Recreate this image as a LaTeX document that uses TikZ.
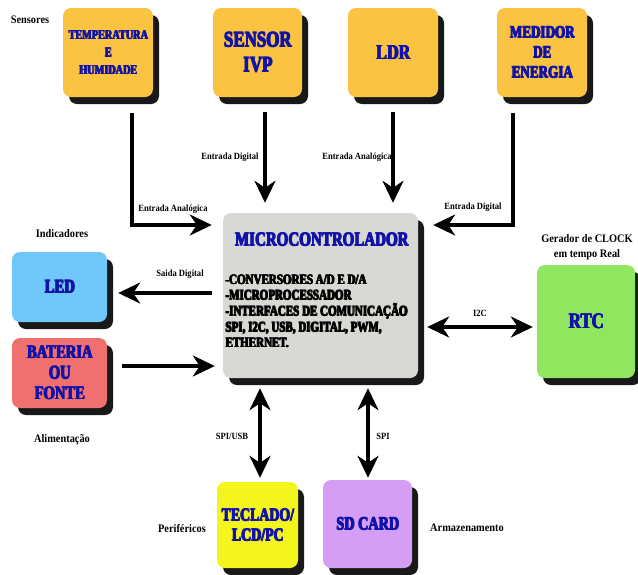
\documentclass[tikz,border=0pt]{standalone}
\usepackage{fontspec}
\setmainfont{Liberation Serif}
\newfontfamily\boxfont[FakeStretch=0.77]{Liberation Serif Bold}
\newfontfamily\labfont[FakeStretch=0.9]{Liberation Serif Bold}
\usetikzlibrary{arrows.meta,shadows,calc}
\definecolor{sensorcol}{RGB}{250,195,65}
\definecolor{ledcol}{RGB}{112,200,250}
\definecolor{batcol}{RGB}{240,112,112}
\definecolor{rtccol}{RGB}{145,230,95}
\definecolor{teccol}{RGB}{245,245,30}
\definecolor{sdcol}{RGB}{212,158,245}
\definecolor{microcol}{RGB}{216,216,212}
\definecolor{txtblue}{RGB}{18,18,168}
% heavier letters: the text is set several times, slightly shifted
\newcommand\hv[1]{\leavevmode\rlap{\kern0.8pt#1}\rlap{\raisebox{0.6pt}{#1}}\rlap{\kern0.8pt\raisebox{0.6pt}{#1}}#1}
\begin{document}
\begin{tikzpicture}[x=1pt,y=-1pt,
        blok/.style={rounded corners=8pt, inner sep=0pt, align=center, text=txtblue,
            drop shadow={shadow xshift=6pt,shadow yshift=-7pt,opacity=0.9,fill=black}},
        conn/.style={line width=3.2pt, -{Stealth[length=22pt,width=21pt,inset=7pt]}},
        both/.style={line width=3.2pt, {Stealth[length=22pt,width=21pt,inset=7pt]}-{Stealth[length=22pt,width=21pt,inset=7pt]}},
        lab/.style={font=\labfont\fontsize{9.5}{11}\selectfont, inner sep=0pt},
        grp/.style={font=\labfont\fontsize{11.5}{15}\selectfont, align=center, inner sep=0pt}]
        \useasboundingbox (0,0) rectangle (638,574);
        % sensores
        \node[blok, fill=sensorcol, minimum width=90, minimum height=89,
            font=\boxfont\fontsize{13.3}{17.5}\selectfont] (temp) at (108,52.5) {\hv{TEMPERATURA}\\\hv{E}\\\hv{HUMIDADE}};
        \node[blok, fill=sensorcol, minimum width=89, minimum height=89,
            font=\boxfont\fontsize{22}{25}\selectfont] (ivp) at (257.5,52.5) {\hv{SENSOR}\\\hv{IVP}};
        \node[blok, fill=sensorcol, minimum width=90, minimum height=89,
            font=\boxfont\fontsize{21}{25}\selectfont] (ldr) at (393,52.5) {\hv{LDR}};
        \node[blok, fill=sensorcol, minimum width=90, minimum height=89,
            font=\boxfont\fontsize{17}{20}\selectfont] (med) at (542,52.5) {\hv{MEDIDOR}\\\hv{DE}\\\hv{ENERGIA}};
        % microcontrolador
        \node[blok, fill=microcol, minimum width=195, minimum height=165] (micro) at (320.5,295.5) {};
        \node[text=txtblue, inner sep=0pt, anchor=base,
            font=\boxfont\fontsize{19.5}{22}\selectfont] (microtit) at (321.5,246.5) {\hv{MICROCONTROLADOR}};
        \node[inner sep=0pt, anchor=north west, align=left,
            font=\boxfont\fontsize{14.3}{15.8}\selectfont] (microlist) at (225,274.5)
            {\hv{-CONVERSORES A/D E D/A}\\\hv{-MICROPROCESSADOR}\\\hv{-INTERFACES DE COMUNICAÇÃO}\\\hv{SPI, I2C, USB, DIGITAL, PWM,}\\\hv{ETHERNET.}};
        % lados
        \node[blok, fill=ledcol, minimum width=95, minimum height=70,
            font=\boxfont\fontsize{19}{22}\selectfont] (led) at (59.5,287) {\hv{LED}};
        \node[blok, fill=batcol, minimum width=95, minimum height=70,
            font=\boxfont\fontsize{19}{20.5}\selectfont] (bat) at (59.5,373) {\hv{BATERIA}\\\hv{OU}\\\hv{FONTE}};
        \node[blok, fill=rtccol, minimum width=98, minimum height=113,
            font=\boxfont\fontsize{22}{25}\selectfont] (rtc) at (586,321.5) {\hv{RTC}};
        \node[blok, fill=teccol, minimum width=81, minimum height=86,
            font=\boxfont\fontsize{18}{20}\selectfont] (tec) at (257.5,525) {\hv{TECLADO/}\\\hv{LCD/PC}};
        \node[blok, fill=sdcol, minimum width=89, minimum height=88,
            font=\boxfont\fontsize{18.5}{21}\selectfont] (sd) at (367.5,524) {\hv{SD CARD}};
        % ligacoes
        \draw[conn] ($(temp.south)+(24,16)$) |- ($(micro.west)+(-11,-70.5)$);
        \draw[conn, shorten >=10pt] ($(ivp.south)+(7.5,15)$) coordinate (a) -- (a |- micro.north);
        \draw[conn, shorten >=10pt] ($(ldr.south)+(0,15)$) coordinate (b) -- (b |- micro.north);
        \draw[conn] ($(med.south)+(-29,16)$) |- ($(micro.east)+(15,-70.5)$);
        \draw[conn, shorten >=11pt] ($(micro.west)+(-11,-2.5)$) coordinate (c) -- (c -| led.east);
        \draw[conn, shorten >=8pt] ($(bat.east)+(15,-7)$) coordinate (d) -- (d -| micro.west);
        \draw[both, shorten <=9pt, shorten >=4pt] ($(micro.east)+(0,31.5)$) coordinate (e) -- (e -| rtc.west);
        \draw[both, shorten <=10pt, shorten >=4pt] ($(micro.south)+(-60.5,0)$) coordinate (f) -- (f |- tec.north);
        \draw[both, shorten <=10pt, shorten >=2pt] ($(micro.south)+(47.5,0)$) coordinate (g) -- (g |- sd.north);
        % rotulos
        \node[lab] (l1) at (173,209) {Entrada Analógica};
        \node[lab] (l2) at (230,157) {Entrada Digital};
        \node[lab] (l3) at (357,157) {Entrada Analógica};
        \node[lab] (l4) at (473,207) {Entrada Digital};
        \node[lab] (l5) at (180,274) {Saida Digital};
        \node[lab] (l6) at (480,313) {I2C};
        \node[lab] (l7) at (232,436) {SPI/USB};
        \node[lab] (l8) at (383,436) {SPI};
        \node[grp] (g1) at (30,20) {Sensores};
        \node[grp] (g2) at (62,234) {Indicadores};
        \node[grp] (g3) at (62,440) {Alimentação};
        \node[grp] (g4) at (587,247) {Gerador de CLOCK\\em tempo Real};
        \node[grp] (g5) at (182,528) {Periféricos};
        \node[grp] (g6) at (467,528) {Armazenamento};
\end{tikzpicture}
\end{document}
